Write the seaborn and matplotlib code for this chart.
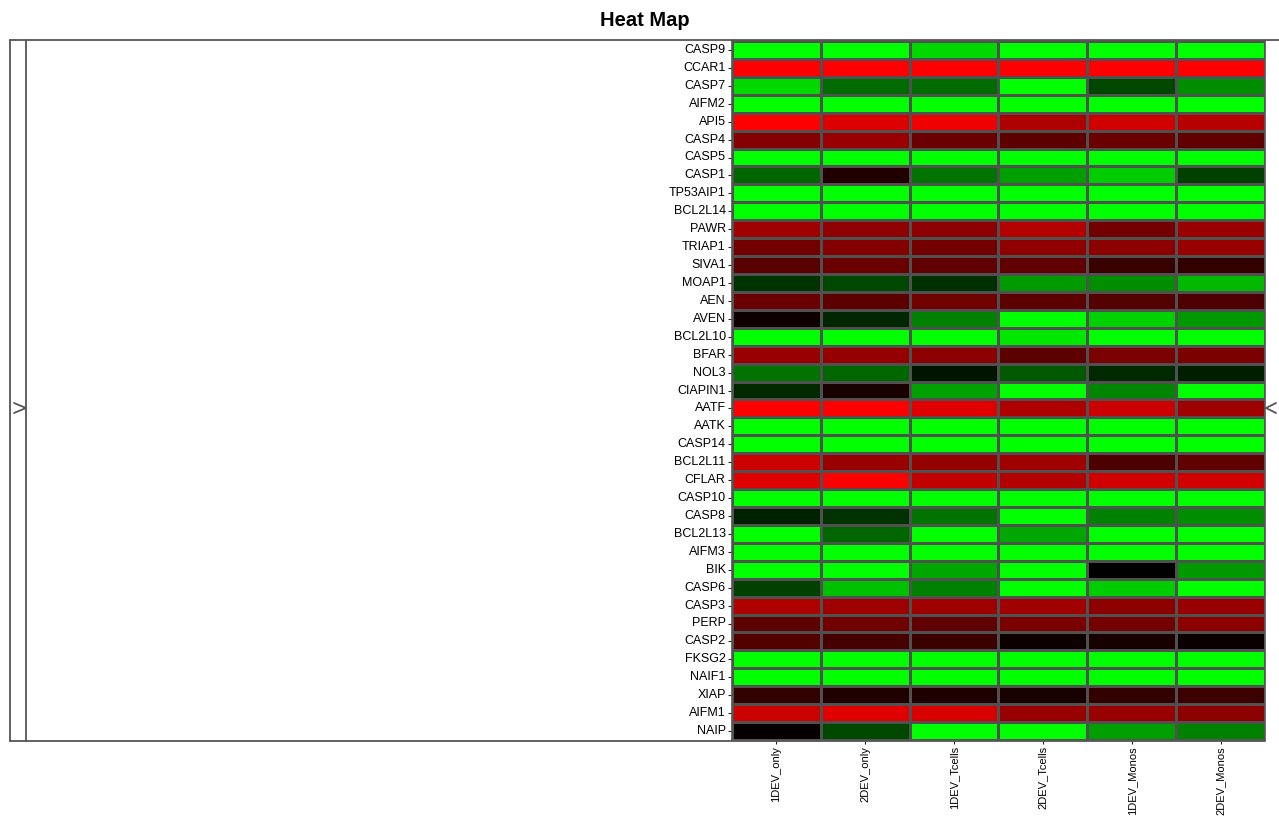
import numpy as np
import pandas as pd
import seaborn as sns
import matplotlib.pyplot as plt
from matplotlib.colors import LinearSegmentedColormap
from matplotlib.lines import Line2D

sns.set_style("white")
plt.rcParams['font.family'] = ['Liberation Sans Narrow', 'Liberation Sans', 'DejaVu Sans']

# data: +1 = bright green, 0 = black, -1 = bright red
samples = ["1DEV_only", "2DEV_only", "1DEV_Tcells", "2DEV_Tcells", "1DEV_Monos", "2DEV_Monos"]
genes = ["CASP9", "CCAR1", "CASP7", "AIFM2", "API5", "CASP4", "CASP5", "CASP1", "TP53AIP1",
         "BCL2L14", "PAWR", "TRIAP1", "SIVA1", "MOAP1", "AEN", "AVEN", "BCL2L10", "BFAR",
         "NOL3", "CIAPIN1", "AATF", "AATK", "CASP14", "BCL2L11", "CFLAR", "CASP10", "CASP8",
         "BCL2L13", "AIFM3", "BIK", "CASP6", "CASP3", "PERP", "CASP2", "FKSG2", "NAIF1",
         "XIAP", "AIFM1", "NAIP"]

dev1_only = [1.0, -1.0, 0.85, 1.0, -1.0, -0.52, 1.0, 0.40, 1.0, 1.0, -0.62, -0.45, -0.35,
             0.20, -0.42, -0.06, 1.0, -0.60, 0.45, 0.16, -1.0, 1.0, 1.0, -0.80, -0.88, 1.0,
             0.13, 1.0, 1.0, 1.0, 0.25, -0.68, -0.36, -0.33, 1.0, 1.0, -0.20, -0.80, -0.03]
dev2_only = [1.0, -1.0, 0.42, 1.0, -0.86, -0.60, 1.0, -0.13, 1.0, 1.0, -0.56, -0.52, -0.42,
             0.28, -0.36, 0.15, 1.0, -0.58, 0.40, -0.10, -1.0, 1.0, 1.0, -0.60, -1.0, 1.0,
             0.20, 0.40, 1.0, 1.0, 0.75, -0.62, -0.44, -0.28, 1.0, 1.0, -0.13, -0.88, 0.28]
dev1_tcells = [0.85, -1.0, 0.42, 1.0, -0.93, -0.42, 1.0, 0.45, 1.0, 1.0, -0.55, -0.45, -0.38,
               0.18, -0.44, 0.50, 1.0, -0.55, 0.08, 0.63, -0.88, 1.0, 1.0, -0.58, -0.76, 1.0,
               0.45, 1.0, 1.0, 0.65, 0.50, -0.62, -0.38, -0.23, 1.0, 1.0, -0.12, -0.85, 1.0]
dev2_tcells = [1.0, -1.0, 1.0, 1.0, -0.68, -0.36, 1.0, 0.62, 1.0, 1.0, -0.70, -0.57, -0.38,
               0.60, -0.36, 1.0, 0.90, -0.36, 0.35, 1.0, -0.68, 1.0, 1.0, -0.62, -0.70, 1.0,
               1.0, 0.65, 1.0, 1.0, 1.0, -0.63, -0.48, -0.06, 1.0, 1.0, -0.10, -0.60, 1.0]
dev1_monos = [1.0, -1.0, 0.28, 1.0, -0.82, -0.42, 1.0, 0.80, 1.0, 1.0, -0.45, -0.55, -0.22,
              0.55, -0.33, 0.82, 1.0, -0.48, 0.16, 0.52, -0.80, 1.0, 1.0, -0.30, -0.82, 1.0,
              0.50, 1.0, 1.0, 0.0, 0.80, -0.55, -0.46, -0.10, 1.0, 1.0, -0.20, -0.60, 0.62]
dev2_monos = [1.0, -1.0, 0.55, 1.0, -0.72, -0.38, 1.0, 0.25, 1.0, 1.0, -0.60, -0.60, -0.20,
              0.72, -0.30, 0.60, 1.0, -0.48, 0.12, 1.0, -0.62, 1.0, 1.0, -0.38, -0.82, 1.0,
              0.55, 1.0, 1.0, 0.60, 1.0, -0.60, -0.55, -0.04, 1.0, 1.0, -0.24, -0.55, 0.50]

df = pd.DataFrame({"1DEV_only": dev1_only, "2DEV_only": dev2_only,
                   "1DEV_Tcells": dev1_tcells, "2DEV_Tcells": dev2_tcells,
                   "1DEV_Monos": dev1_monos, "2DEV_Monos": dev2_monos},
                  index=genes)[samples]

cmap = LinearSegmentedColormap.from_list("rbg", ["#ff0000", "#000000", "#00ff00"])

W, H = 1279, 818
fig = plt.figure(figsize=(W / 100, H / 100), dpi=100)


def fx(px):
    return px / W


def fy(py):
    return 1 - py / H


ax = fig.add_axes([fx(732), fy(740), fx(1265) - fx(732), fy(41) - fy(740)])
sns.heatmap(df, ax=ax, cmap=cmap, vmin=-1, vmax=1, cbar=False,
            linewidths=0.9, linecolor="#505050")

ax.set_yticks(np.arange(len(genes)) + 0.5)
ax.set_yticklabels(genes, rotation=0, fontsize=9)
ax.set_xticks(np.arange(len(samples)) + 0.5)
ax.set_xticklabels(samples, rotation=90, fontsize=8)
ax.tick_params(axis="both", length=3, width=0.8, color="#222222", pad=1.5,
               labelcolor="black", left=True, bottom=True)
ax.set_xlabel("")
ax.set_ylabel("")
for s in ax.spines.values():
    s.set_visible(True)
    s.set_color("#555555")
    s.set_linewidth(1.2)

# outer frame and the collapsed dendrogram stubs
frame = "#555555"
lines = [
    ([10, 1279], [40, 40]),
    ([10, 10], [40, 741]),
    ([10, 1265], [741, 741]),
    ([26, 26], [40, 741]),
    ([14, 26, 14], [403, 408, 413]),
    ([1276, 1266, 1276], [403, 408, 413]),
]
for xs, ys in lines:
    fig.add_artist(Line2D([fx(v) for v in xs], [fy(v) for v in ys],
                          color=frame, lw=1.3, transform=fig.transFigure))

fig.text(fx(645), fy(20), "Heat Map", ha="center", va="center", color="black",
         fontsize=14.5, fontweight="bold", family=["Liberation Sans", "DejaVu Sans"])

fig.savefig("out.png", dpi=100)
